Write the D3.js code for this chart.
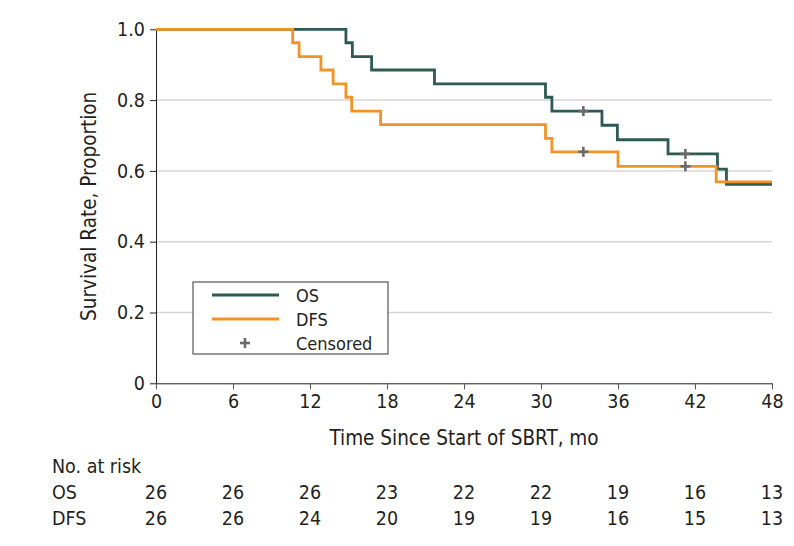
<!DOCTYPE html>
<html><head><meta charset="utf-8">
<script src="https://cdn.jsdelivr.net/npm/d3@7"></script>
<style>
body{margin:0;background:#fff}
svg{display:block}
text{font-family:"DejaVu Sans Condensed","DejaVu Sans",sans-serif;font-stretch:condensed;fill:#231f20}
</style>
</head><body>
<svg id="c" width="794" height="546"></svg>
<script>
// ---- data ----
const osTimes   = [0, 14.8, 15.3, 16.8, 21.7, 30.35, 30.85, 34.75, 35.95, 39.9, 43.75, 44.45, 48];
const osSurv    = [1.0, 0.962, 0.923, 0.885, 0.846, 0.808, 0.769, 0.729, 0.688, 0.648, 0.605, 0.562, 0.562];
const dfsTimes  = [0, 10.65, 11.15, 12.85, 13.8, 14.8, 15.25, 17.5, 30.35, 30.85, 36.0, 43.65, 48];
const dfsSurv   = [1.0, 0.962, 0.923, 0.885, 0.846, 0.808, 0.769, 0.731, 0.692, 0.654, 0.613, 0.569, 0.569];
const osCensorTimes  = [33.3, 41.25];
const osCensorSurv   = [0.769, 0.648];
const dfsCensorTimes = [33.3, 41.25];
const dfsCensorSurv  = [0.654, 0.613];
const xTicks = [0, 6, 12, 18, 24, 30, 36, 42, 48];
const yTicks = [0, 0.2, 0.4, 0.6, 0.8, 1.0];
const yTickLabels = ["0", "0.2", "0.4", "0.6", "0.8", "1.0"];
const gridValues = [0.2, 0.4, 0.6, 0.8];
const seriesNames = ["OS", "DFS", "Censored"];
const riskLabels = ["OS", "DFS"];
const osAtRisk  = [26, 26, 26, 23, 22, 22, 19, 16, 13];
const dfsAtRisk = [26, 26, 24, 20, 19, 19, 16, 15, 13];

// ---- styles ----
const OS_COLOR = "#2d5a55", DFS_COLOR = "#f39325", CENS_COLOR = "#6a6a6c";
const FS = 19.5, FT = 20.5, FL = 18;

const svg = d3.select("#c");
const x = d3.scaleLinear().domain([0, 48]).range([156, 772]);
const y = d3.scaleLinear().domain([0, 1]).range([383.3, 29.3]);

// gridlines
svg.append("g").selectAll("line").data(gridValues).join("line")
  .attr("x1", x(0)).attr("x2", x(48))
  .attr("y1", d => y(d)).attr("y2", d => y(d))
  .attr("stroke", "#d6d6d6").attr("stroke-width", 1.5);

// axes
const xAxis = svg.append("g").attr("transform", `translate(0,${y(0)})`)
  .call(d3.axisBottom(x).tickValues(xTicks).tickFormat(d3.format("d")).tickSize(6).tickSizeOuter(0).tickPadding(5));
const yAxis = svg.append("g").attr("transform", `translate(${x(0)},0)`)
  .call(d3.axisLeft(y).tickValues(yTicks).tickFormat((d, i) => yTickLabels[i]).tickSize(6).tickSizeOuter(0).tickPadding(5));
[xAxis, yAxis].forEach(a => {
  a.selectAll("path,line").attr("stroke", "#231f20");
  a.selectAll("text").attr("font-size", FS).attr("fill", "#231f20")
    .style("font-family", '"DejaVu Sans Condensed","DejaVu Sans",sans-serif').style("font-stretch", "condensed");
});
xAxis.selectAll(".tick line").attr("stroke", "#555");

// axis titles
svg.append("text").attr("x", (x(0) + x(48)) / 2).attr("y", 438)
  .attr("text-anchor", "middle").attr("dominant-baseline", "central")
  .attr("font-size", FT).text("Time Since Start of SBRT, mo");
svg.append("text").attr("transform", `translate(89,${(y(0) + y(1)) / 2}) rotate(-90)`)
  .attr("text-anchor", "middle").attr("dominant-baseline", "central")
  .attr("font-size", FT).text("Survival Rate, Proportion");

// curves
const line = d3.line().x(d => x(d[0])).y(d => y(d[1])).curve(d3.curveStepAfter);
svg.append("path").datum(d3.zip(osTimes, osSurv)).attr("d", line)
  .attr("fill", "none").attr("stroke", OS_COLOR).attr("stroke-width", 2.8);
svg.append("path").datum(d3.zip(dfsTimes, dfsSurv)).attr("d", line)
  .attr("fill", "none").attr("stroke", DFS_COLOR).attr("stroke-width", 2.8);

// censor marks
const cens = d3.zip(osCensorTimes, osCensorSurv).concat(d3.zip(dfsCensorTimes, dfsCensorSurv));
const cg = svg.append("g").attr("stroke", CENS_COLOR).attr("stroke-width", 2.6);
cens.forEach(([t, s]) => {
  cg.append("line").attr("x1", x(t) - 5).attr("x2", x(t) + 5).attr("y1", y(s)).attr("y2", y(s));
  cg.append("line").attr("x1", x(t)).attr("x2", x(t)).attr("y1", y(s) - 5).attr("y2", y(s) + 5);
});

// legend
const lg = svg.append("g");
lg.append("rect").attr("x", 193).attr("y", 282).attr("width", 195).attr("height", 72)
  .attr("fill", "#fff").attr("stroke", "#555").attr("stroke-width", 1.2);
const legColors = [OS_COLOR, DFS_COLOR, null];
seriesNames.forEach((name, i) => {
  const yy = 295 + i * 24;
  if (legColors[i]) {
    lg.append("line").attr("x1", 212).attr("x2", 279).attr("y1", yy).attr("y2", yy)
      .attr("stroke", legColors[i]).attr("stroke-width", 2.8);
  } else {
    lg.append("line").attr("x1", 240).attr("x2", 250).attr("y1", yy).attr("y2", yy).attr("stroke", CENS_COLOR).attr("stroke-width", 2.6);
    lg.append("line").attr("x1", 245).attr("x2", 245).attr("y1", yy - 5).attr("y2", yy + 5).attr("stroke", CENS_COLOR).attr("stroke-width", 2.6);
  }
  lg.append("text").attr("x", 296).attr("y", yy).attr("dominant-baseline", "central")
    .attr("font-size", FL).text(name);
});

// at-risk table
svg.append("text").attr("x", 52).attr("y", 466).attr("dominant-baseline", "central")
  .attr("font-size", FS).text("No. at risk");
[osAtRisk, dfsAtRisk].forEach((row, r) => {
  const yy = 492 + r * 26;
  svg.append("text").attr("x", 52).attr("y", yy).attr("dominant-baseline", "central")
    .attr("font-size", FS).text(riskLabels[r]);
  svg.append("g").selectAll("text").data(row).join("text")
    .attr("x", (d, i) => x(xTicks[i])).attr("y", yy)
    .attr("text-anchor", "middle").attr("dominant-baseline", "central")
    .attr("font-size", FS).text(d => d);
});
</script>
</body></html>
